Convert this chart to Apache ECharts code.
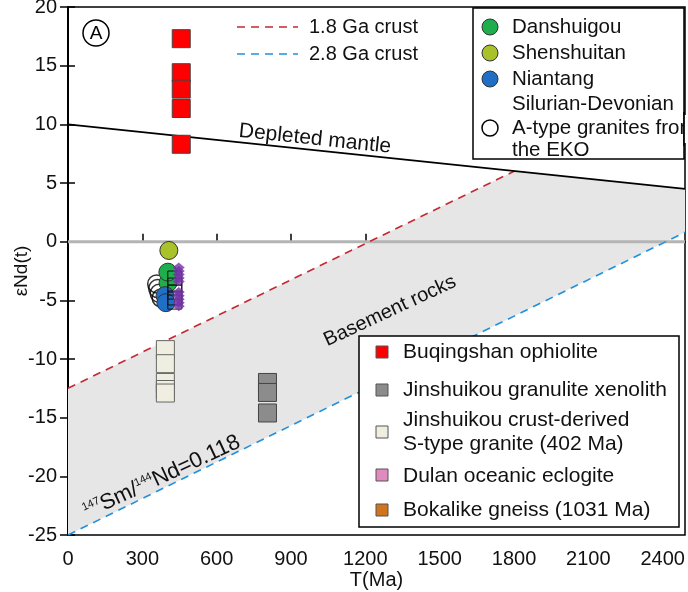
<!DOCTYPE html>
<html>
<head>
<meta charset="utf-8">
<title>εNd(t) vs T(Ma)</title>
<script src="https://cdn.jsdelivr.net/npm/echarts@6/dist/echarts.min.js"></script>
<style>
  html, body { margin: 0; padding: 0; background: #fff; }
  #chart { width: 688px; height: 592px; }
</style>
</head>
<body>
<div id="chart"></div>
<script>
// Reference lines (T in Ma, εNd)
const depletedMantle = [[0, 10.0], [2490, 4.5]];
const crust18 = [[0, -12.5], [1800, 6.0]];
const crust28 = [[0, -25.0], [2490, 0.8]];
const chondrite = [[0, 0], [2490, 0]];

// Samples: [T(Ma), εNd(t)]
const buqingshan = [[457, 17.3], [457, 14.4], [457, 13.0], [457, 11.35], [457, 8.3]];
const granulite = [[805, -12.0], [805, -12.85], [805, -14.6]];
const sTypeGranite = [[393, -9.2], [393, -10.4], [393, -12.0], [393, -12.6], [393, -12.9]];
const aTypeEKO = [[358, -3.6], [362, -4.0], [368, -4.4], [376, -4.8]];
const danshuigou = [[404, -3.5], [403, -2.6]];
const shenshuitan = [[407, -0.75]];
const niantang = [[392, -4.6], [395, -5.2]];
const hollowSquares = [[431, -3.1], [431, -3.7], [431, -4.3], [431, -4.8], [431, -5.15]];
const purpleGroup = [[447, -2.2], [447, -2.5], [447, -2.8], [447, -3.1], [447, -3.4],
                     [447, -4.3], [447, -4.6], [447, -4.9], [447, -5.2], [447, -5.5]];

// Axis settings
const xTickStep = 300;
const yTickStep = 5;

const FONT = '"Liberation Sans", Arial, sans-serif';

const COLORS = {
  red: '#ff0000', gray: '#8c8c8c', cream: '#efeee0', pink: '#e08bc0', orange: '#d2731e',
  green: '#1fae4c', yellowGreen: '#a9c22c', blue: '#1f6fc6', purple: '#7333a6',
  crust18: '#c42a33', crust28: '#2291dd', fill: '#e6e6e6', zero: '#b4b4b4'
};

const chart = echarts.init(document.getElementById('chart'));

// Basement field: between the 1.8 Ga and 2.8 Ga crust lines, capped by the mantle line
const basementPolygon = [crust18[0], crust18[1], depletedMantle[1], crust28[1], crust28[0]];

function scatter(name, data, symbol, size, color, border, z, extra) {
  return Object.assign({
    name, type: 'scatter', data, symbol, symbolSize: size, z,
    itemStyle: { color, borderColor: border, borderWidth: 1, opacity: 1 },
    emphasis: { disabled: true }, silent: true
  }, extra || {});
}

function keyText(x, y, text, size, extra) {
  return { type: 'text', x, y, z: 21,
    style: Object.assign({ text, font: `${size}px ${FONT}`, fill: '#111', verticalAlign: 'middle' }, extra || {}) };
}

const option = {
  animation: false,
  textStyle: { fontFamily: FONT },
  grid: { left: 68, right: 3, top: 7, bottom: 57, containLabel: false, outerBoundsMode: 'none',
    show: true, borderColor: '#000', borderWidth: 1.5, backgroundColor: 'transparent' },
  xAxis: {
    type: 'value', min: 0, max: 2490, interval: xTickStep,
    name: 'T(Ma)', nameLocation: 'middle', nameGap: 35, nameMoveOverlap: false,
    nameTextStyle: { fontSize: 20, color: '#111', fontFamily: FONT },
    axisLine: { lineStyle: { color: '#000', width: 2 } },
    axisTick: { inside: true, length: 8, lineStyle: { color: '#000', width: 1.5 } },
    axisLabel: { fontSize: 20, color: '#111', margin: 14, showMaxLabel: false, fontFamily: FONT,
      formatter: v => (v % xTickStep === 0 ? String(v) : '') },
    splitLine: { show: false }
  },
  yAxis: [{
    type: 'value', min: -25, max: 20, interval: yTickStep,
    name: 'εNd(t)', nameLocation: 'middle', nameGap: 37, nameRotate: 90, nameMoveOverlap: false,
    nameTextStyle: { fontSize: 19, color: '#111', fontFamily: FONT },
    axisLine: { lineStyle: { color: '#000', width: 2 } },
    axisTick: { inside: false, length: 8, lineStyle: { color: '#000', width: 1.5 } },
    axisLabel: { fontSize: 20, color: '#111', margin: 11, fontFamily: FONT },
    splitLine: { show: false }
  }, {
    type: 'value', min: -25, max: 20, interval: yTickStep, position: 'left',
    axisLine: { show: false },
    axisTick: { inside: true, length: 7, lineStyle: { color: '#000', width: 1.5 } },
    axisLabel: { show: false }, splitLine: { show: false }
  }],
  series: [
    {
      name: 'Basement rocks', type: 'custom', z: 1, silent: true,
      data: [0],
      renderItem: (params, api) => ({
        type: 'polygon',
        shape: { points: basementPolygon.map(p => api.coord(p)) },
        style: { fill: COLORS.fill, stroke: 'none' }
      })
    },
    { name: 'CHUR', type: 'line', data: chondrite, z: 2, symbol: 'none', silent: true,
      lineStyle: { color: COLORS.zero, width: 3 } },
    { name: '1.8 Ga crust', type: 'line', data: crust18, z: 3, symbol: 'none', silent: true,
      lineStyle: { color: COLORS.crust18, width: 1.6, type: [8, 6] } },
    { name: '2.8 Ga crust', type: 'line', data: crust28, z: 3, symbol: 'none', silent: true,
      lineStyle: { color: COLORS.crust28, width: 1.6, type: [8, 6] } },
    { name: 'Depleted mantle', type: 'line', data: depletedMantle, z: 3, symbol: 'none', silent: true,
      lineStyle: { color: '#000', width: 1.6 } },

    scatter('Buqingshan ophiolite', buqingshan, 'rect', 18, COLORS.red, '#444', 5),
    scatter('Jinshuikou granulite xenolith', granulite, 'rect', 18, COLORS.gray, '#444', 5),
    scatter('Jinshuikou crust-derived S-type granite (402 Ma)', sTypeGranite, 'rect', 18, COLORS.cream, '#666', 5),
    scatter('A-type granites from the EKO', aTypeEKO, 'circle', 18, 'rgba(0,0,0,0)', '#000', 6,
      { itemStyle: { color: 'rgba(0,0,0,0)', borderColor: '#000', borderWidth: 1.5 } }),
    scatter('Danshuigou', danshuigou, 'circle', 18, COLORS.green, '#333', 7),
    scatter('Shenshuitan', shenshuitan, 'circle', 18, COLORS.yellowGreen, '#333', 7),
    scatter('Niantang Silurian-Devonian', niantang, 'circle', 18, COLORS.blue, '#333', 7),
    scatter('Open squares', hollowSquares, 'rect', 14, 'rgba(0,0,0,0)', '#111', 8),
    scatter('Purple group', purpleGroup, 'diamond', [12, 10], COLORS.purple, COLORS.purple, 9,
      { itemStyle: { color: COLORS.purple, borderWidth: 0 } })
  ],
  graphic: [
    // panel mark
    { type: 'circle', shape: { cx: 96, cy: 33, r: 13 }, style: { fill: '#fff', stroke: '#000', lineWidth: 1.5 }, z: 20 },
    { type: 'text', x: 96, y: 34, z: 21, style: { text: 'A', font: `19px ${FONT}`, fill: '#000', align: 'center', verticalAlign: 'middle' } },

    // crust line keys
    { type: 'line', shape: { x1: 237, y1: 27, x2: 298, y2: 27 }, z: 20, style: { stroke: COLORS.crust18, lineWidth: 1.6, lineDash: [8, 6] } },
    keyText(309, 27, '1.8 Ga crust', 20),
    { type: 'line', shape: { x1: 237, y1: 54, x2: 298, y2: 54 }, z: 20, style: { stroke: COLORS.crust28, lineWidth: 1.6, lineDash: [8, 6] } },
    keyText(309, 54, '2.8 Ga crust', 20),

    // upper key box
    { type: 'rect', shape: { x: 473, y: 8, width: 211, height: 151 }, z: 20, style: { fill: '#fff', stroke: '#000', lineWidth: 1.5 } },
    { type: 'circle', shape: { cx: 490, cy: 27, r: 8 }, z: 21, style: { fill: COLORS.green, stroke: '#333', lineWidth: 1 } },
    { type: 'circle', shape: { cx: 490, cy: 53, r: 8 }, z: 21, style: { fill: COLORS.yellowGreen, stroke: '#333', lineWidth: 1 } },
    { type: 'circle', shape: { cx: 490, cy: 79, r: 8 }, z: 21, style: { fill: COLORS.blue, stroke: '#333', lineWidth: 1 } },
    { type: 'circle', shape: { cx: 490, cy: 128, r: 8 }, z: 21, style: { fill: '#fff', stroke: '#000', lineWidth: 1.5 } },
    keyText(512, 27, 'Danshuigou', 20.5),
    keyText(512, 53, 'Shenshuitan', 20.5),
    keyText(512, 79, 'Niantang', 20.5),
    keyText(512, 104, 'Silurian-Devonian', 20.5),
    keyText(512, 128, 'A-type granites from', 20.5),
    keyText(512, 150, 'the EKO', 20.5),
    // the key's right edge trims the long entry
    { type: 'rect', shape: { x: 684.5, y: 115, width: 4, height: 28 }, z: 22, style: { fill: '#fff' } },
    { type: 'line', shape: { x1: 684, y1: 112, x2: 684, y2: 146 }, z: 23, style: { stroke: '#000', lineWidth: 1.5 } },

    // lower key box
    { type: 'rect', shape: { x: 359, y: 336, width: 320, height: 191 }, z: 20, style: { fill: '#fff', stroke: '#000', lineWidth: 1.5 } },
    { type: 'rect', shape: { x: 376, y: 346, width: 12, height: 12 }, z: 21, style: { fill: COLORS.red, stroke: '#555', lineWidth: 1 } },
    { type: 'rect', shape: { x: 376, y: 384, width: 12, height: 12 }, z: 21, style: { fill: COLORS.gray, stroke: '#555', lineWidth: 1 } },
    { type: 'rect', shape: { x: 376, y: 426, width: 12, height: 12 }, z: 21, style: { fill: COLORS.cream, stroke: '#555', lineWidth: 1 } },
    { type: 'rect', shape: { x: 376, y: 469, width: 12, height: 12 }, z: 21, style: { fill: COLORS.pink, stroke: '#555', lineWidth: 1 } },
    { type: 'rect', shape: { x: 376, y: 504, width: 12, height: 12 }, z: 21, style: { fill: COLORS.orange, stroke: '#555', lineWidth: 1 } },
    keyText(403, 352, 'Buqingshan ophiolite', 21),
    keyText(403, 390, 'Jinshuikou granulite xenolith', 21),
    keyText(403, 420, 'Jinshuikou crust-derived', 21),
    keyText(403, 444, 'S-type granite (402 Ma)', 21),
    keyText(403, 476, 'Dulan oceanic eclogite', 21),
    keyText(403, 510, 'Bokalike gneiss (1031 Ma)', 21),

    // line annotations
    { type: 'text', x: 315, y: 139, rotation: -6 * Math.PI / 180, z: 15,
      style: { text: 'Depleted mantle', font: `21px ${FONT}`, fill: '#111', align: 'center', verticalAlign: 'middle' } },
    { type: 'text', x: 390, y: 311, rotation: 25 * Math.PI / 180, z: 15,
      style: { text: 'Basement rocks', font: `20px ${FONT}`, fill: '#111', align: 'center', verticalAlign: 'middle' } },
    { type: 'text', x: 162, y: 477, rotation: 25 * Math.PI / 180, z: 15,
      style: {
        text: '{sup|147}Sm/{sup|144}Nd=0.118', align: 'center', verticalAlign: 'middle',
        rich: {
          sup: { fontSize: 11, fontFamily: FONT, fill: '#111', verticalAlign: 'top', lineHeight: 22 }
        },
        font: `22px ${FONT}`, fill: '#111', lineHeight: 22
      } }
  ]
};

chart.setOption(option);
</script>
</body>
</html>
